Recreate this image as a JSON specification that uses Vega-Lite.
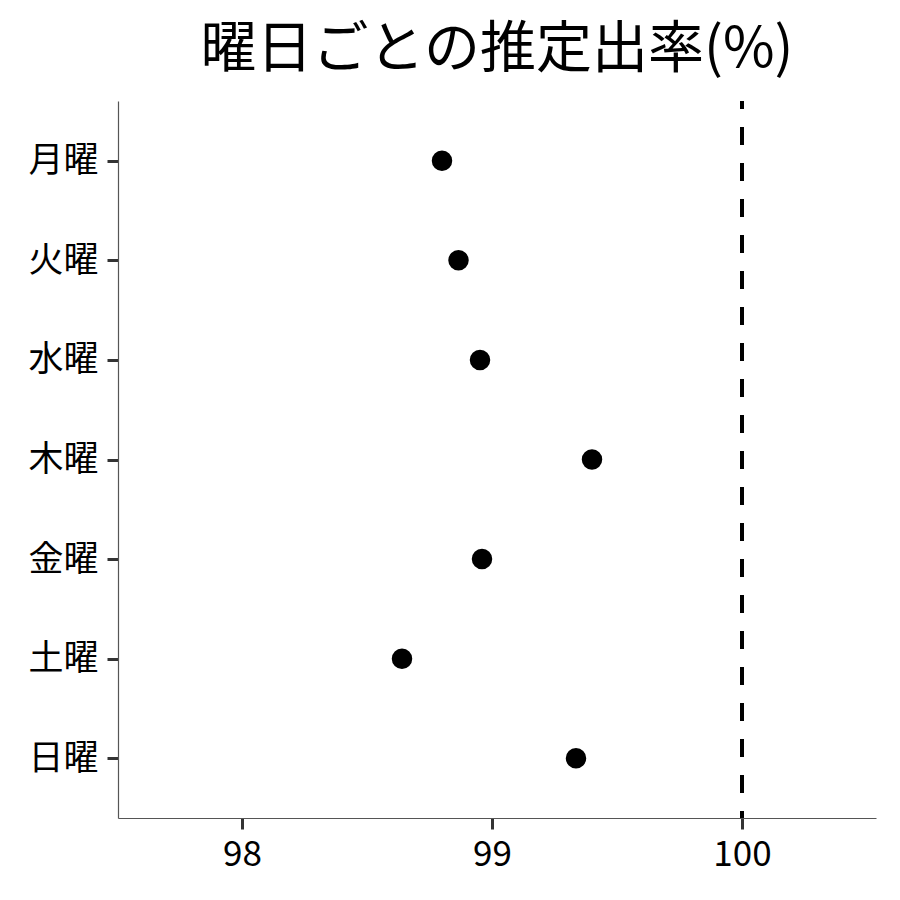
{
  "$schema": "https://vega.github.io/schema/vega-lite/v6.json",
  "autosize": {"type": "none"},
  "padding": {"left": 118, "top": 101, "right": 24, "bottom": 82},
  "width": 758,
  "height": 717,
  "background": "white",
  "title": {
    "text": "曜日ごとの推定出率(%)",
    "font": "Noto Sans CJK JP",
    "fontSize": 56,
    "fontWeight": "normal",
    "color": "black",
    "anchor": "middle",
    "offset": 20
  },
  "config": {
    "view": {"stroke": null},
    "axis": {
      "domainColor": "#555555",
      "domainWidth": 1.2,
      "tickColor": "#333333",
      "tickWidth": 3,
      "tickSize": 11,
      "grid": false,
      "labelFont": "Noto Sans CJK JP",
      "labelFontSize": 35,
      "labelColor": "black",
      "title": null
    }
  },
  "data": {
    "values": [
      {"day": "月曜", "rate": 98.80},
      {"day": "火曜", "rate": 98.866},
      {"day": "水曜", "rate": 98.952},
      {"day": "木曜", "rate": 99.40},
      {"day": "金曜", "rate": 98.96},
      {"day": "土曜", "rate": 98.64},
      {"day": "日曜", "rate": 99.336}
    ]
  },
  "layer": [
    {
      "mark": {"type": "point", "filled": true, "color": "black", "opacity": 1, "size": 420},
      "encoding": {
        "y": {
          "field": "day", "type": "nominal",
          "sort": ["月曜", "火曜", "水曜", "木曜", "金曜", "土曜", "日曜"],
          "scale": {"type": "point", "padding": 0.6},
          "axis": {"labelPadding": 9}
        },
        "x": {
          "field": "rate", "type": "quantitative",
          "scale": {"domain": [97.504, 100.536], "nice": false, "zero": false},
          "axis": {"values": [98, 99, 100], "labelPadding": 8, "format": "d"}
        }
      }
    },
    {
      "mark": {"type": "rule", "color": "black", "strokeWidth": 4, "strokeDash": [18, 18], "strokeDashOffset": 10},
      "encoding": {"x": {"datum": 100, "type": "quantitative"}}
    }
  ]
}
